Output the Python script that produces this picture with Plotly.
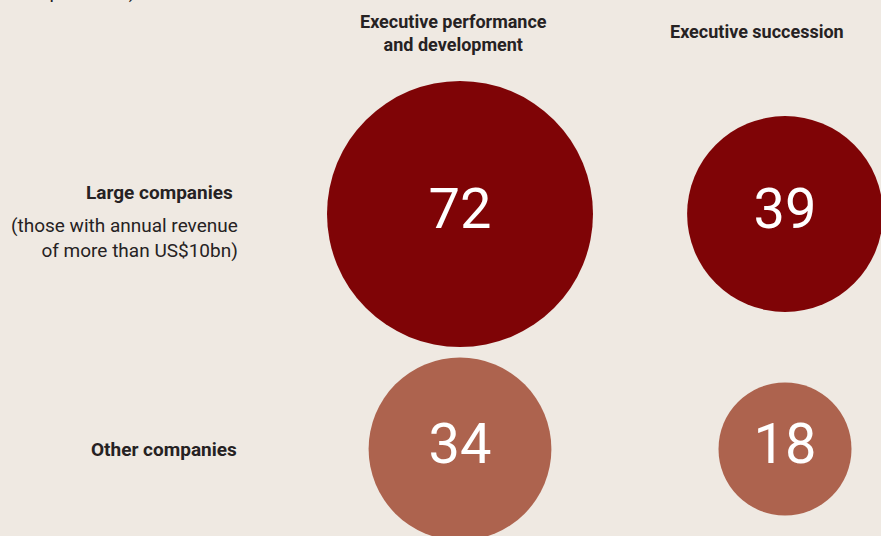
import plotly.graph_objects as go

W, H = 881, 536

columns = ["Executive performance<br>and development", "Executive succession"]
row_titles = ["Large companies", "Other companies"]
row_note = "(those with annual revenue<br>of more than US$10bn)"
large_companies = [72, 39]
other_companies = [34, 18]

BG = "#efe9e2"
DARK = "#7f0406"
LIGHT = "#ad634e"
INK = "#262223"
FONT = "Roboto"

# biggest bubble is 266px across, others scale by area
max_diam = 266
sizeref = 2.0 * max(large_companies + other_companies) / max_diam ** 2


def px_x(x):
    return x / W


def px_y(y):
    return 1 - y / H


fig = go.Figure()
for row, (values, colour) in enumerate(
    [(large_companies, DARK), (other_companies, LIGHT)]
):
    fig.add_trace(
        go.Scatter(
            x=list(range(len(columns))),
            y=[row] * len(values),
            mode="markers+text",
            text=[str(v) for v in values],
            textposition="middle center",
            textfont=dict(family=FONT, size=56, color="white"),
            marker=dict(
                size=values,
                sizemode="area",
                sizeref=sizeref,
                color=colour,
                opacity=1,
                line_width=0,
            ),
            cliponaxis=False,
            hoverinfo="skip",
            showlegend=False,
        )
    )

annotations = [
    # subtitle that is cut off by the top edge in the original
    dict(text="(% of respondents)", x=px_x(137), y=px_y(4.5), xanchor="right",
         yanchor="bottom", font=dict(size=19)),
    dict(text="<b>" + columns[0] + "</b>", x=px_x(453), y=px_y(33)),
    dict(text="<b>" + columns[1] + "</b>", x=px_x(757), y=px_y(32)),
    dict(text="<b>" + row_titles[0] + "</b>", x=px_x(235), y=px_y(193),
         xanchor="right", font=dict(size=19)),
    dict(text=row_note, x=px_x(240), y=px_y(238), xanchor="right",
         align="right", font=dict(size=19)),
    dict(text="<b>" + row_titles[1] + "</b>", x=px_x(239), y=px_y(449),
         xanchor="right", font=dict(size=19)),
]
for a in annotations:
    a.setdefault("xref", "paper")
    a.setdefault("yref", "paper")
    a.setdefault("showarrow", False)
    a.setdefault("xanchor", "center")
    a.setdefault("yanchor", "middle")
    a.setdefault("font", dict(size=18))
    a["font"].setdefault("family", FONT)
    a["font"].setdefault("color", INK)

fig.update_layout(
    width=W,
    height=H,
    margin=dict(l=0, r=0, t=0, b=0),
    paper_bgcolor=BG,
    plot_bgcolor=BG,
    annotations=annotations,
    xaxis=dict(range=[-460 / 325, (W - 460) / 325], visible=False),
    yaxis=dict(range=[1 + (H - 449) / 235, -214 / 235], visible=False),
)

# drop the browser's default page margin so the chart sits at 0,0
fig.write_html(
    "out.html",
    config={"displayModeBar": False},
    post_script="document.body.style.margin='0';document.body.style.overflow='hidden';",
)
